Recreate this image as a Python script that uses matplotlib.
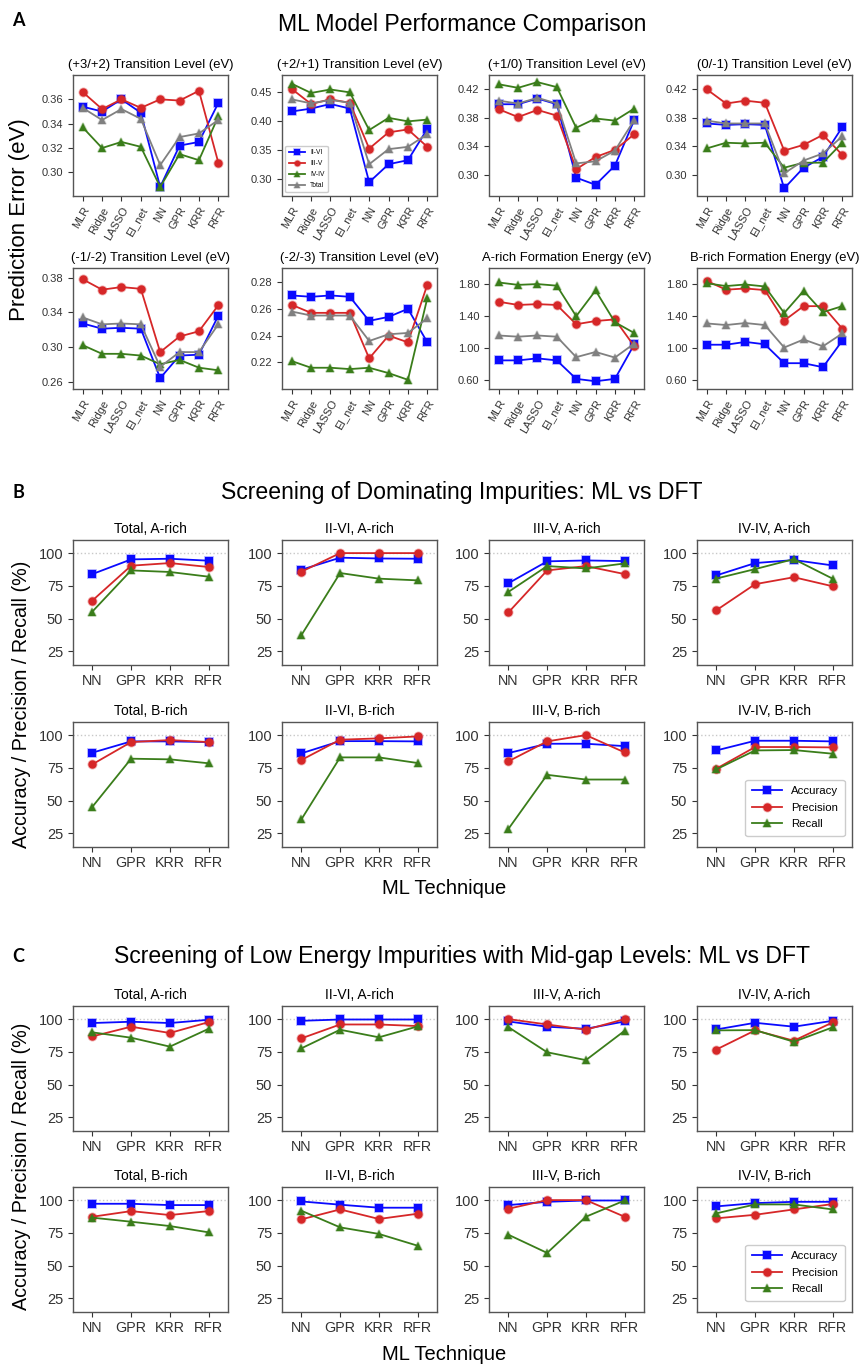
import matplotlib
matplotlib.use('Agg')
import matplotlib.pyplot as plt
from matplotlib import font_manager
from matplotlib.colors import to_rgba

# ---------------- data ----------------
models = ['MLR', 'Ridge', 'LASSO', 'El_net', 'NN', 'GPR', 'KRR', 'RFR']
groups = ['II-VI', 'III-V', 'IV-IV', 'Total']
titles_A = ['(+3/+2) Transition Level (eV)', '(+2/+1) Transition Level (eV)',
            '(+1/0) Transition Level (eV)', '(0/-1) Transition Level (eV)',
            '(-1/-2) Transition Level (eV)', '(-2/-3) Transition Level (eV)',
            'A-rich Formation Energy (eV)', 'B-rich Formation Energy (eV)']

p32_IIVI = [0.354, 0.350, 0.360, 0.349, 0.288, 0.322, 0.325, 0.357]
p32_IIIV = [0.366, 0.352, 0.360, 0.353, 0.360, 0.359, 0.367, 0.308]
p32_IVIV = [0.337, 0.320, 0.325, 0.321, 0.288, 0.315, 0.310, 0.346]
p32_Total = [0.353, 0.343, 0.352, 0.344, 0.306, 0.329, 0.332, 0.343]

p21_IIVI = [0.417, 0.422, 0.430, 0.422, 0.295, 0.326, 0.333, 0.387]
p21_IIIV = [0.456, 0.430, 0.438, 0.432, 0.353, 0.381, 0.386, 0.356]
p21_IVIV = [0.465, 0.449, 0.455, 0.450, 0.385, 0.406, 0.400, 0.403]
p21_Total = [0.438, 0.431, 0.437, 0.432, 0.326, 0.352, 0.356, 0.378]

p10_IIVI = [0.399, 0.399, 0.407, 0.399, 0.296, 0.286, 0.313, 0.377]
p10_IIIV = [0.392, 0.381, 0.391, 0.383, 0.308, 0.325, 0.335, 0.357]
p10_IVIV = [0.427, 0.422, 0.430, 0.423, 0.366, 0.379, 0.376, 0.393]
p10_Total = [0.404, 0.400, 0.408, 0.400, 0.316, 0.319, 0.334, 0.377]

m01_IIVI = [0.372, 0.370, 0.371, 0.370, 0.281, 0.310, 0.325, 0.367]
m01_IIIV = [0.420, 0.400, 0.404, 0.401, 0.334, 0.342, 0.356, 0.328]
m01_IVIV = [0.337, 0.345, 0.344, 0.345, 0.310, 0.317, 0.317, 0.345]
m01_Total = [0.376, 0.372, 0.372, 0.372, 0.302, 0.320, 0.330, 0.354]

m12_IIVI = [0.327, 0.321, 0.322, 0.321, 0.264, 0.290, 0.291, 0.336]
m12_IIIV = [0.378, 0.366, 0.369, 0.367, 0.294, 0.312, 0.318, 0.348]
m12_IVIV = [0.302, 0.292, 0.292, 0.290, 0.280, 0.285, 0.276, 0.273]
m12_Total = [0.334, 0.326, 0.327, 0.326, 0.277, 0.294, 0.294, 0.326]

m23_IIVI = [0.270, 0.269, 0.270, 0.269, 0.251, 0.254, 0.260, 0.235]
m23_IIIV = [0.263, 0.257, 0.257, 0.257, 0.223, 0.240, 0.235, 0.278]
m23_IVIV = [0.221, 0.216, 0.216, 0.215, 0.216, 0.212, 0.207, 0.268]
m23_Total = [0.258, 0.255, 0.255, 0.255, 0.236, 0.241, 0.242, 0.253]

fA_IIVI = [0.85, 0.85, 0.875, 0.85, 0.62, 0.59, 0.62, 1.05]
fA_IIIV = [1.58, 1.54, 1.55, 1.54, 1.30, 1.34, 1.36, 1.025]
fA_IVIV = [1.82, 1.79, 1.80, 1.78, 1.40, 1.72, 1.325, 1.19]
fA_Total = [1.16, 1.145, 1.16, 1.145, 0.89, 0.955, 0.885, 1.06]

fB_IIVI = [1.045, 1.045, 1.08, 1.05, 0.815, 0.815, 0.765, 1.095]
fB_IIIV = [1.84, 1.73, 1.745, 1.725, 1.345, 1.525, 1.525, 1.245]
fB_IVIV = [1.81, 1.775, 1.795, 1.77, 1.44, 1.715, 1.45, 1.525]
fB_Total = [1.31, 1.29, 1.315, 1.29, 1.01, 1.11, 1.025, 1.185]

ylims_A = [(0.281, 0.380), (0.272, 0.480), (0.271, 0.440), (0.271, 0.440),
           (0.252, 0.391), (0.2005, 0.2905), (0.50, 2.00), (0.50, 2.00)]
yticks_A = [[0.30, 0.32, 0.34, 0.36], [0.30, 0.35, 0.40, 0.45],
            [0.30, 0.34, 0.38, 0.42], [0.30, 0.34, 0.38, 0.42],
            [0.26, 0.30, 0.34, 0.38], [0.22, 0.24, 0.26, 0.28],
            [0.60, 1.00, 1.40, 1.80], [0.60, 1.00, 1.40, 1.80]]

techniques = ['NN', 'GPR', 'KRR', 'RFR']
metrics = ['Accuracy', 'Precision', 'Recall']
titles_BC = ['Total, A-rich', 'II-VI, A-rich', 'III-V, A-rich', 'IV-IV, A-rich',
             'Total, B-rich', 'II-VI, B-rich', 'III-V, B-rich', 'IV-IV, B-rich']

# Panel B: dominating impurities
B_TotA_acc = [84.0, 95.2, 95.7, 94.2]
B_TotA_pre = [63.8, 90.4, 92.4, 89.4]
B_TotA_rec = [55.4, 86.8, 85.6, 82.0]
B_IIVIA_acc = [87.3, 96.5, 95.9, 95.7]
B_IIVIA_pre = [85.8, 100.0, 100.0, 100.0]
B_IIVIA_rec = [37.4, 84.8, 80.5, 79.2]
B_IIIVA_acc = [77.0, 93.7, 94.4, 93.9]
B_IIIVA_pre = [54.7, 86.8, 90.1, 84.0]
B_IIIVA_rec = [70.4, 90.1, 88.3, 92.1]
B_IVIVA_acc = [83.0, 92.4, 94.7, 90.6]
B_IVIVA_pre = [56.4, 76.3, 81.6, 74.7]
B_IVIVA_rec = [80.6, 87.8, 95.4, 80.5]
B_TotB_acc = [86.6, 95.2, 95.2, 94.7]
B_TotB_pre = [77.7, 94.7, 96.2, 94.7]
B_TotB_rec = [45.3, 82.0, 81.5, 78.5]
B_IIVIB_acc = [86.1, 95.4, 95.4, 95.2]
B_IIVIB_pre = [81.0, 96.5, 97.5, 99.0]
B_IIVIB_rec = [35.7, 83.0, 83.0, 78.7]
B_IIIVB_acc = [86.3, 93.4, 93.4, 91.6]
B_IIIVB_pre = [80.0, 95.2, 100.0, 86.8]
B_IIIVB_rec = [28.4, 69.7, 66.1, 66.1]
B_IVIVB_acc = [88.3, 95.7, 95.7, 95.2]
B_IVIVB_pre = [74.4, 90.9, 90.9, 90.6]
B_IVIVB_rec = [73.9, 88.3, 88.6, 85.8]

# Panel C: low energy impurities with mid-gap levels
C_TotA_acc = [97.0, 98.0, 97.0, 99.5]
C_TotA_pre = [86.8, 94.2, 89.4, 97.7]
C_TotA_rec = [89.9, 85.8, 79.0, 92.6]
C_IIVIA_acc = [98.7, 99.7, 99.7, 99.7]
C_IIVIA_pre = [85.3, 95.9, 95.9, 94.7]
C_IIVIA_rec = [77.7, 91.9, 86.1, 94.4]
C_IIIVA_acc = [98.2, 94.2, 92.6, 98.2]
C_IIIVA_pre = [100.0, 95.9, 91.9, 100.0]
C_IIIVA_rec = [93.9, 74.7, 68.7, 91.1]
C_IVIVA_acc = [92.1, 97.2, 94.2, 98.7]
C_IVIVA_pre = [76.8, 91.4, 83.5, 97.5]
C_IVIVA_rec = [91.4, 91.6, 82.7, 93.7]
C_TotB_acc = [97.2, 97.2, 96.2, 96.2]
C_TotB_pre = [87.3, 91.6, 88.6, 91.6]
C_TotB_rec = [86.6, 83.5, 80.2, 75.4]
C_IIVIB_acc = [99.0, 96.5, 94.2, 94.2]
C_IIVIB_pre = [85.3, 92.9, 85.6, 89.6]
C_IIVIB_rec = [91.9, 79.2, 74.2, 65.2]
C_IIIVB_acc = [96.2, 98.7, 99.7, 99.7]
C_IIIVB_pre = [93.4, 100.0, 100.0, 87.3]
C_IIIVB_rec = [73.6, 59.7, 87.3, 99.7]
C_IVIVB_acc = [95.2, 97.7, 98.7, 98.7]
C_IVIVB_pre = [86.1, 88.8, 92.9, 97.0]
C_IVIVB_rec = [89.9, 96.7, 96.7, 92.9]

# ---------------- style ----------------
names = {f.name for f in font_manager.fontManager.ttflist}
FONT = 'Liberation Sans Narrow' if 'Liberation Sans Narrow' in names else 'Liberation Sans'
plt.rcParams['font.family'] = [FONT, 'DejaVu Sans']
BOLDFONT = 'Lato' if 'Lato' in names else 'DejaVu Sans'

BLUE, RED, GREEN, GREY = '#0a0aff', '#d62728', '#3a7d1a', '#808080'
group_colors = [BLUE, RED, GREEN, GREY]
group_markers = ['s', 'o', '^', '^']
metric_colors = [BLUE, RED, GREEN]
metric_markers = ['s', 'o', '^']
SPINE = '#555555'

W, H = 861, 1368
fig = plt.figure(figsize=(W / 100, H / 100), dpi=100)


def ax_at(left, top, width, height):
    return fig.add_axes([left / W, 1 - (top + height) / H, width / W, height / H])


def style_axes(ax):
    for s in ax.spines.values():
        s.set_color(SPINE)
        s.set_linewidth(1.0)
    ax.tick_params(colors='#333333', length=3.5, width=0.8, direction='out')


def draw_line(ax, x, y, color, marker, ms, label):
    ax.plot(x, y, color=color, marker=marker, markersize=ms, linewidth=1.3,
            markeredgecolor=to_rgba(color, 0.35), markeredgewidth=1.2,
            markerfacecolor=color, label=label)


col_left = [73, 282, 489, 697]
COL_W = 155

# ---------------- Panel A ----------------
A_series = [
    [p32_IIVI, p32_IIIV, p32_IVIV, p32_Total],
    [p21_IIVI, p21_IIIV, p21_IVIV, p21_Total],
    [p10_IIVI, p10_IIIV, p10_IVIV, p10_Total],
    [m01_IIVI, m01_IIIV, m01_IVIV, m01_Total],
    [m12_IIVI, m12_IIIV, m12_IVIV, m12_Total],
    [m23_IIVI, m23_IIIV, m23_IVIV, m23_Total],
    [fA_IIVI, fA_IIIV, fA_IVIV, fA_Total],
    [fB_IIVI, fB_IIIV, fB_IVIV, fB_Total],
]
A_row_top = [75, 268]
xA = list(range(len(models)))
for i, series in enumerate(A_series):
    r, c = divmod(i, 4)
    ax = ax_at(col_left[c], A_row_top[r], COL_W, 120.5)
    style_axes(ax)
    for vals, g, colr, mk in zip(series, groups, group_colors, group_markers):
        draw_line(ax, xA, vals, colr, mk, 6, g)
    ax.set_xlim(-0.5, len(models) - 0.5)
    ax.set_ylim(*ylims_A[i])
    ax.set_yticks(yticks_A[i])
    ax.set_yticklabels(['%.2f' % t for t in yticks_A[i]], fontsize=8)
    ax.set_xticks(xA)
    ax.set_xticklabels(models, rotation=60, ha='right', rotation_mode='anchor', fontsize=8)
    ax.set_title(titles_A[i], fontsize=9.4, pad=5)
    if i == 1:
        ax.legend(loc='lower left', fontsize=4.8, markerscale=0.7, handlelength=2.4,
                  borderpad=0.5, labelspacing=0.6, framealpha=1, edgecolor='#cccccc')

# ---------------- Panels B & C ----------------
B_series = [
    [B_TotA_acc, B_TotA_pre, B_TotA_rec], [B_IIVIA_acc, B_IIVIA_pre, B_IIVIA_rec],
    [B_IIIVA_acc, B_IIIVA_pre, B_IIIVA_rec], [B_IVIVA_acc, B_IVIVA_pre, B_IVIVA_rec],
    [B_TotB_acc, B_TotB_pre, B_TotB_rec], [B_IIVIB_acc, B_IIVIB_pre, B_IIVIB_rec],
    [B_IIIVB_acc, B_IIIVB_pre, B_IIIVB_rec], [B_IVIVB_acc, B_IVIVB_pre, B_IVIVB_rec],
]
C_series = [
    [C_TotA_acc, C_TotA_pre, C_TotA_rec], [C_IIVIA_acc, C_IIVIA_pre, C_IIVIA_rec],
    [C_IIIVA_acc, C_IIIVA_pre, C_IIIVA_rec], [C_IVIVA_acc, C_IVIVA_pre, C_IVIVA_rec],
    [C_TotB_acc, C_TotB_pre, C_TotB_rec], [C_IIVIB_acc, C_IIVIB_pre, C_IIVIB_rec],
    [C_IIIVB_acc, C_IIIVB_pre, C_IIIVB_rec], [C_IVIVB_acc, C_IVIVB_pre, C_IVIVB_rec],
]
xT = list(range(len(techniques)))


def draw_screen(series_list, row_tops):
    for i, series in enumerate(series_list):
        r, c = divmod(i, 4)
        ax = ax_at(col_left[c], row_tops[r], COL_W, 124.5)
        style_axes(ax)
        ax.axhline(100, color='#c8c8c8', linestyle=':', linewidth=1.0, zorder=0)
        for vals, m, colr, mk in zip(series, metrics, metric_colors, metric_markers):
            draw_line(ax, xT, vals, colr, mk, 6, m)
        ax.set_xlim(-0.5, len(techniques) - 0.5)
        ax.set_ylim(15, 110)
        ax.set_yticks([25, 50, 75, 100])
        ax.tick_params(axis='y', labelsize=10.5)
        ax.set_xticks(xT)
        ax.set_xticklabels(techniques, fontsize=10.3)
        ax.set_title(titles_BC[i], fontsize=10, pad=5)
        if i == 7:
            ax.legend(loc='lower right', fontsize=8.2, handlelength=2.6,
                      borderpad=0.6, labelspacing=0.55, framealpha=1,
                      edgecolor='#cccccc', bbox_to_anchor=(0.99, 0.04))


draw_screen(B_series, [540, 722])
draw_screen(C_series, [1006, 1187])

# ---------------- figure texts ----------------
def ftext(x, y, s, **kw):
    fig.text(x / W, 1 - y / H, s, **kw)


ftext(462, 25, 'ML Model Performance Comparison', fontsize=16.6, ha='center', va='center')
ftext(462, 493, 'Screening of Dominating Impurities: ML vs DFT', fontsize=16.6, ha='center', va='center')
ftext(462, 957, 'Screening of Low Energy Impurities with Mid-gap Levels: ML vs DFT',
      fontsize=16.6, ha='center', va='center')
for lbl, y in [('A', 21), ('B', 492), ('C', 957)]:
    ftext(12, y, lbl, fontsize=13, fontweight='bold', family=BOLDFONT, ha='left', va='center')

ftext(20, 220, 'Prediction Error (eV)', fontsize=16, rotation=90, ha='center', va='center')
ftext(22, 704, 'Accuracy / Precision / Recall (%)', fontsize=14.2, rotation=90, ha='center', va='center')
ftext(22, 1166, 'Accuracy / Precision / Recall (%)', fontsize=14.2, rotation=90, ha='center', va='center')
ftext(444, 889, 'ML Technique', fontsize=14.5, ha='center', va='center')
ftext(444, 1355, 'ML Technique', fontsize=14.5, ha='center', va='center')

fig.savefig('out.png', dpi=100, facecolor='white')
